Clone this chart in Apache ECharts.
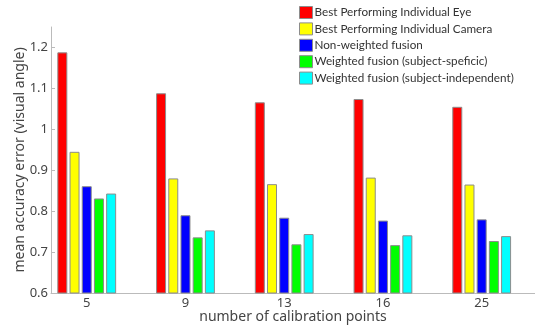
<!DOCTYPE html>
<html>
<head>
<meta charset="utf-8">
<script src="https://cdn.jsdelivr.net/npm/echarts@6/dist/echarts.min.js"></script>
<style>html,body{margin:0;padding:0;background:#fff}#c{width:535px;height:327px}</style>
</head>
<body>
<div id="c"></div>
<script>
const categories = ['5', '9', '13', '16', '25'];
const seriesNames = [
  'Best Performing Individual Eye',
  'Best Performing Individual Camera',
  'Non-weighted fusion',
  'Weighted fusion (subject-speficic)',
  'Weighted fusion (subject-independent)'
];
const bestEye = [1.188, 1.088, 1.066, 1.074, 1.055];
const bestCamera = [0.945, 0.880, 0.866, 0.882, 0.865];
const nonWeighted = [0.861, 0.790, 0.784, 0.777, 0.780];
const weightedSpecific = [0.831, 0.736, 0.719, 0.717, 0.727];
const weightedIndependent = [0.843, 0.753, 0.744, 0.741, 0.739];
const colors = ['#ff0000', '#ffff00', '#0000ff', '#00ff00', '#00ffff'];
const yTicks = [0.6, 0.7, 0.8, 0.9, 1.0, 1.1, 1.2];

const allValues = [bestEye, bestCamera, nonWeighted, weightedSpecific, weightedIndependent];
const positions = categories.map((c, i) => i + 1);
const font = 'Noto Sans';

const chart = echarts.init(document.getElementById('c'), null, {renderer: 'canvas'});
chart.setOption({
  animation: false,
  textStyle: {fontFamily: font},
  grid: {left: 51, right: 0, top: 27, bottom: 34, outerBoundsMode: 'none', containLabel: false},
  legend: {
    orient: 'vertical',
    left: 299,
    top: 6,
    padding: 0,
    itemWidth: 13,
    itemHeight: 12,
    itemGap: 3.4,
    icon: 'rect',
    itemStyle: {borderColor: '#8c8c8c', borderWidth: 1},
    textStyle: {fontSize: 11.7, lineHeight: 12, color: '#333', fontFamily: 'Lato', padding: [0, 0, 0, -3]},
    data: seriesNames
  },
  xAxis: {
    type: 'value',
    min: 0.638,
    max: 5.54,
    name: 'number of calibration points',
    nameLocation: 'middle',
    nameGap: 17,
    nameMoveOverlap: false,
    nameTextStyle: {fontSize: 14, color: '#444', fontFamily: font},
    axisLine: {onZero: false, lineStyle: {color: '#bbb'}},
    axisTick: {show: false},
    splitLine: {show: false},
    axisLabel: {
      customValues: positions,
      formatter: v => categories[Math.round(v) - 1],
      fontSize: 13,
      color: '#444',
      margin: 4
    }
  },
  yAxis: {
    type: 'value',
    min: 0.6,
    max: 1.25,
    interval: 0.1,
    name: 'mean accuracy error (visual angle)',
    nameLocation: 'middle',
    nameGap: 24,
    nameMoveOverlap: false,
    nameTextStyle: {fontSize: 14, color: '#444', fontFamily: font},
    axisLine: {show: true, onZero: false, lineStyle: {color: '#bbb'}},
    axisTick: {show: true, inside: true, length: 4, lineStyle: {color: '#bbb'}, customValues: yTicks},
    splitLine: {show: false},
    axisLabel: {
      customValues: yTicks,
      formatter: v => String(Math.round(v * 10) / 10),
      fontSize: 13,
      color: '#444',
      margin: 3
    }
  },
  series: allValues.map((vals, si) => ({
    name: seriesNames[si],
    type: 'bar',
    barWidth: 10,
    barGap: '22%',
    itemStyle: {color: colors[si], borderColor: '#8c8c8c', borderWidth: 1},
    data: vals.map((v, i) => [positions[i], v])
  }))
});
</script>
</body>
</html>
